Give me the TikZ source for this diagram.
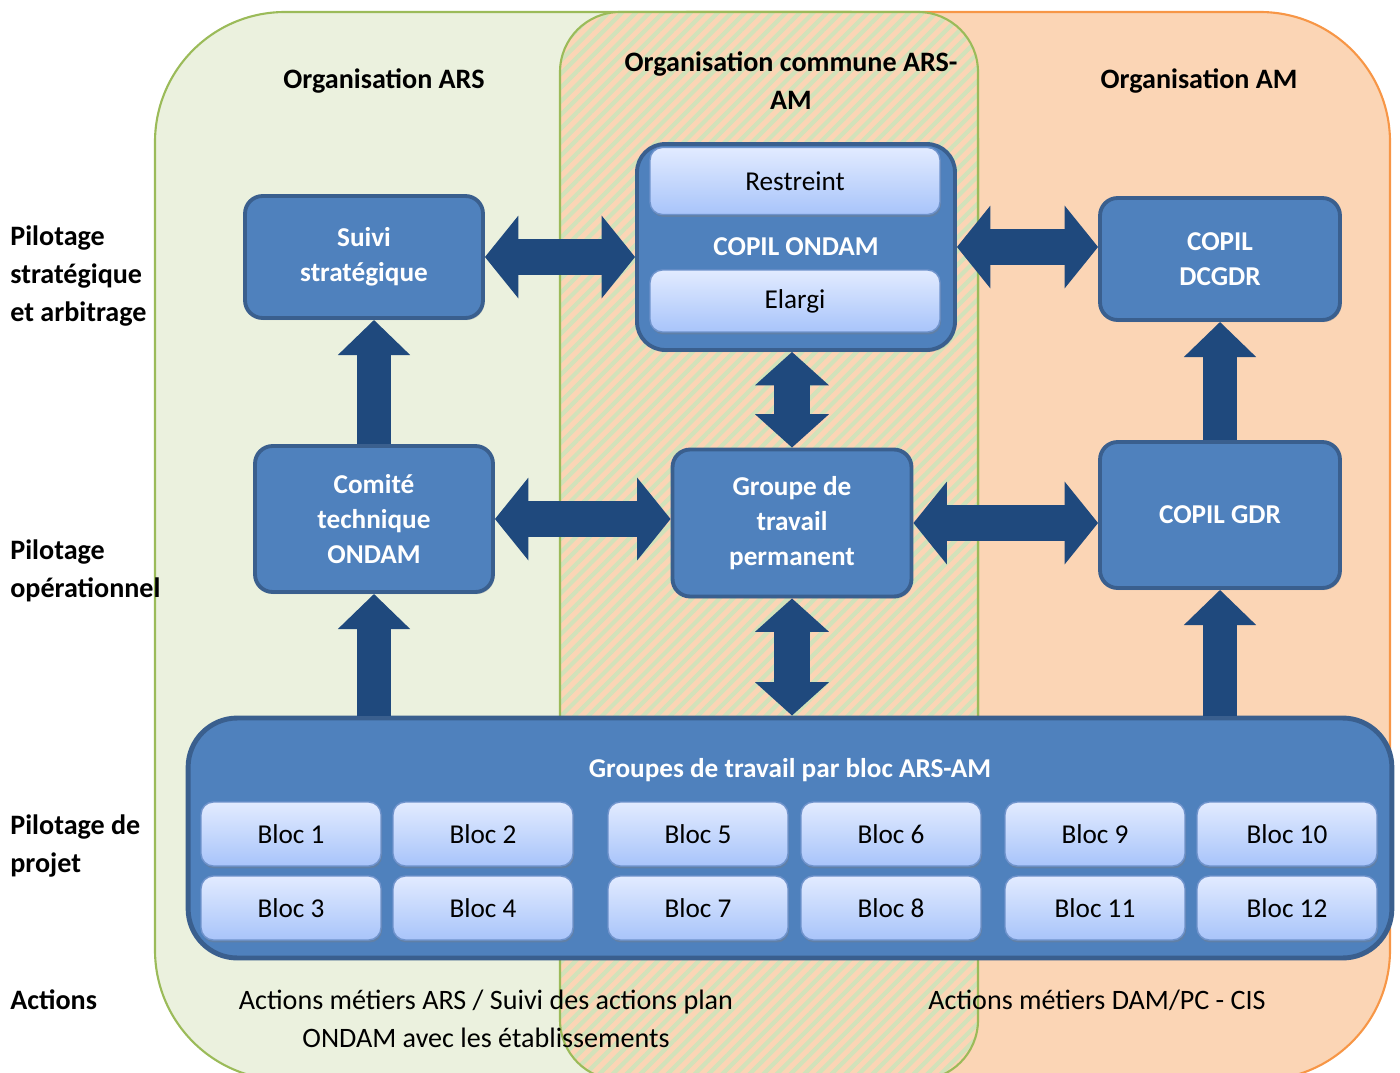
\documentclass[tikz,border=0pt]{standalone}
\usepackage{fontspec}
\setmainfont{Carlito}
\usetikzlibrary{arrows.meta,patterns.meta,shadows}

\definecolor{arsfill}{HTML}{EBF1DE}
\definecolor{arsline}{HTML}{9BBB59}
\definecolor{arsstripe}{HTML}{D2E2BA}
\definecolor{amfill}{HTML}{FBD5B5}
\definecolor{amline}{HTML}{F79646}
\definecolor{boxblue}{HTML}{4F81BD}
\definecolor{boxline}{HTML}{3A5F8E}
\definecolor{arrowblue}{HTML}{1F497D}
\definecolor{bloctop}{HTML}{E2EBFF}
\definecolor{blocbot}{HTML}{A8C4FA}
\definecolor{blocline}{HTML}{6F93CC}

\begin{document}
\begin{tikzpicture}[x=0.02cm,y=-0.02cm,
    bluebox/.style={draw=boxline, line width=2.2pt, fill=boxblue, rounded corners=10pt,
        text=white, font=\bfseries\fontsize{15.5}{19.8}\selectfont, align=center, inner sep=0pt,
        drop shadow={opacity=0.3,shadow xshift=0.8pt,shadow yshift=-1.2pt}},
    blocbox/.style={draw=blocline, line width=0.8pt, top color=bloctop, bottom color=blocbot,
        rounded corners=7pt, minimum width=3.6cm, minimum height=1.28cm, inner sep=0pt,
        font=\fontsize{15.5}{19}\selectfont,
        drop shadow={opacity=0.35,shadow xshift=0.6pt,shadow yshift=-1.4pt}},
    barrow/.style={draw=arrowblue, line width=20.5pt,
        {Triangle[width=46pt,length=19pt]}-{Triangle[width=46pt,length=19pt]}},
    vbarrow/.style={draw=arrowblue, line width=20pt,
        {Triangle[width=41pt,length=19pt]}-{Triangle[width=41pt,length=19pt]}},
    uparrow/.style={draw=arrowblue, line width=19.5pt, -{Triangle[width=40pt,length=20pt]}},
    headtext/.style={font=\bfseries\fontsize{16}{21.5}\selectfont, align=center},
    sidetext/.style={font=\bfseries\fontsize{16}{21.5}\selectfont, align=left, anchor=west, inner sep=0pt},
    plaintext/.style={font=\fontsize{16}{22}\selectfont, align=center}]

\useasboundingbox (0,0) rectangle (1400,1072);
\clip (0,0) rectangle (1400,1072);

% organisations
\draw[amline, line width=1.2pt, fill=amfill, rounded corners=2.6cm] (560,12) rectangle (1390,1080);
\draw[arsline, line width=1.2pt, fill=arsfill, rounded corners=2.6cm] (155,12) rectangle (978,1080);
\fill[amfill, rounded corners=1.2cm] (560,12) rectangle (978,1080);
\fill[pattern={Lines[angle=45,distance=5.5pt,line width=2.4pt]}, pattern color=arsstripe,
    rounded corners=1.2cm] (560,12) rectangle (978,1080);
\draw[arsline, line width=1.2pt, rounded corners=1.2cm] (560,12) rectangle (978,1080);

\node[headtext] (orgars) at (384,81) {Organisation ARS};
\node[headtext] (orgcom) at (791,81) {Organisation commune ARS-\\AM};
\node[headtext] (orgam) at (1199,81) {Organisation AM};

% niveaux
\node[sidetext] (strat) at (10,276) {Pilotage\\stratégique\\et arbitrage};
\node[sidetext] (oper) at (10,571) {Pilotage\\opérationnel};
\node[sidetext] (projet) at (10,846) {Pilotage de\\projet};
\node[sidetext] (actions) at (10,1000) {Actions};

% boites
\node[bluebox, minimum width=4.76cm, minimum height=2.44cm] (suivi) at (364,257) {Suivi\\stratégique};
\node[bluebox, rounded corners=16pt, minimum width=6.36cm, minimum height=4.12cm] (ondam) at (796,247) {COPIL ONDAM};
\node[blocbox, minimum width=5.8cm, minimum height=1.34cm] (restreint) at (795,181) {Restreint};
\node[blocbox, minimum width=5.8cm, minimum height=1.24cm] (elargi) at (795,301) {Elargi};
\node[bluebox, minimum width=4.8cm, minimum height=2.44cm] (dcgdr) at (1220,259) {COPIL\\DCGDR};
\node[bluebox, minimum width=4.76cm, minimum height=2.92cm] (comite) at (374,519) {Comité\\technique\\ONDAM};
\node[bluebox, minimum width=4.78cm, minimum height=2.94cm] (groupe) at (792,523) {Groupe de\\travail\\permanent};
\node[bluebox, minimum width=4.8cm, minimum height=2.92cm] (gdr) at (1220,515) {COPIL GDR};
\node[bluebox, line width=2.8pt, rounded corners=28pt, minimum width=24.08cm, minimum height=4.8cm] (groupes) at (790,838) {};
\node[text=white, font=\bfseries\fontsize{15.5}{19.8}\selectfont] (groupestitre) at (790,770) {Groupes de travail par bloc ARS-AM};

\foreach \n/\x/\y in {1/291/834, 2/483/834, 3/291/908, 4/483/908,
                     5/698/834, 6/891/834, 7/698/908, 8/891/908,
                     9/1095/834, 10/1287/834, 11/1095/908, 12/1287/908}
    \node[blocbox] (bloc\n) at (\x,\y) {Bloc \n};

% fleches
\draw[barrow] (suivi.east) -- (ondam.west |- suivi.east);
\draw[barrow] (ondam.east) -- (dcgdr.west |- ondam.east);
\draw[barrow] (comite.east) -- (groupe.west |- comite.east);
\draw[barrow] (groupe.east) -- (gdr.west |- groupe.east);
\draw[vbarrow] (groupe.north |- ondam.south) -- (groupe.north);
\draw[vbarrow] (groupe.south) -- (groupe.south |- groupes.north);
\draw[uparrow] (comite.north) -- (comite.north |- suivi.south);
\draw[uparrow] (comite.south |- groupes.north) -- (comite.south);
\draw[uparrow] (gdr.north) -- (gdr.north |- dcgdr.south);
\draw[uparrow] (gdr.south |- groupes.north) -- (gdr.south);

% actions
\node[plaintext] (actars) at (486,1019) {Actions métiers ARS / Suivi des actions plan\\ONDAM avec les établissements};
\node[plaintext] (actam) at (1097,1000) {Actions métiers DAM/PC - CIS};

\end{tikzpicture}
\end{document}
